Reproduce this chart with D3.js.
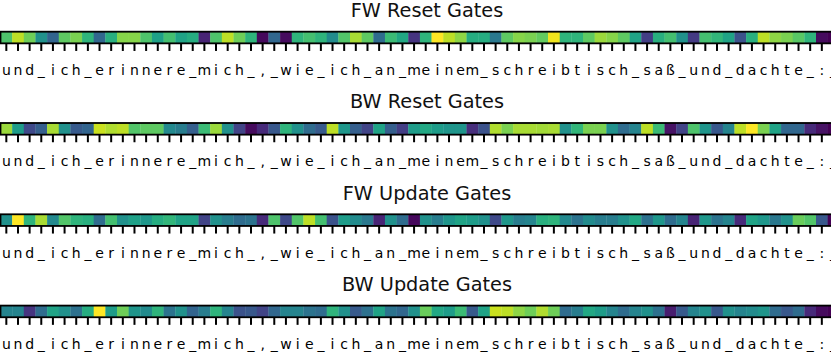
<!DOCTYPE html>
<html>
<head>
<meta charset="utf-8">
<script src="https://cdn.jsdelivr.net/npm/d3@7"></script>
<style>
  body { margin: 0; background: #fff; }
  svg { display: block; }
</style>
</head>
<body>
<div id="chart"></div>
<script>
// characters of the input sentence (one cell per character)
const sentence = "und_ich_erinnere_mich_,_wie_ich_an_meinem_schreibtisch_saß_und_dachte_:_";
const chars = Array.from(sentence);

const titles = ["FW Reset Gates", "BW Reset Gates", "FW Update Gates", "BW Update Gates"];

// gate activations (relative, 0 = darkest, 1 = brightest)
const fwReset = [0.72, 0.90, 0.78, 0.50, 0.32, 0.75, 0.80, 0.65, 0.33, 0.63,
                 0.82, 0.82, 0.72, 0.57, 0.70, 0.58, 0.62, 0.10, 0.72, 0.90,
                 0.78, 0.65, 0.02, 0.33, 0.03, 0.65, 0.70, 0.65, 0.48, 0.73,
                 0.87, 0.75, 0.35, 0.68, 0.60, 0.15, 0.65, 1.00, 0.90, 0.83,
                 0.62, 0.62, 0.40, 0.75, 0.82, 0.80, 0.76, 0.98, 0.65, 0.65,
                 0.75, 0.85, 0.82, 0.75, 0.58, 0.18, 0.63, 0.70, 0.50, 0.17,
                 0.70, 0.66, 0.58, 0.25, 0.63, 0.90, 0.83, 0.80, 0.74, 0.65,
                 0.03, 0.00];
const bwReset = [0.85, 0.55, 0.22, 0.30, 0.87, 0.50, 0.28, 0.32, 0.92, 0.88,
                 0.90, 0.73, 0.75, 0.75, 0.47, 0.42, 0.30, 0.68, 0.85, 0.50,
                 0.20, 0.03, 0.12, 0.27, 0.65, 0.50, 0.35, 0.28, 0.90, 0.53,
                 0.30, 0.20, 0.58, 0.30, 0.18, 0.55, 0.60, 0.55, 0.52, 0.52,
                 0.13, 0.25, 0.88, 0.80, 0.87, 0.87, 0.86, 0.87, 0.50, 0.66,
                 0.80, 0.80, 0.50, 0.35, 0.45, 0.90, 0.68, 0.05, 0.20, 0.72,
                 0.52, 0.27, 0.45, 0.90, 1.00, 0.80, 0.58, 0.33, 0.33, 0.12,
                 0.05, 0.00];
const fwUpdate = [0.50, 1.00, 0.65, 0.87, 0.47, 0.73, 0.65, 0.63, 0.35, 0.70,
                  0.50, 0.57, 0.53, 0.62, 0.66, 0.58, 0.58, 0.20, 0.50, 0.42,
                  0.35, 0.38, 0.12, 0.72, 0.22, 0.73, 0.90, 0.70, 0.25, 0.55,
                  0.48, 0.40, 0.10, 0.50, 0.35, 0.02, 0.50, 0.42, 0.52, 0.58,
                  0.55, 0.50, 0.22, 0.53, 0.42, 0.45, 0.63, 0.65, 0.47, 0.38,
                  0.48, 0.42, 0.42, 0.50, 0.60, 0.37, 0.53, 0.35, 0.45, 0.10,
                  0.53, 0.38, 0.45, 0.12, 0.58, 0.53, 0.40, 0.50, 0.77, 0.73,
                  0.27, 0.00];
const bwUpdate = [0.45, 0.45, 0.15, 0.35, 0.58, 0.50, 0.37, 0.62, 1.00, 0.55,
                  0.78, 0.52, 0.48, 0.65, 0.38, 0.50, 0.32, 0.42, 0.65, 0.45,
                  0.25, 0.27, 0.20, 0.33, 0.45, 0.45, 0.38, 0.35, 0.65, 0.50,
                  0.28, 0.37, 0.58, 0.38, 0.33, 0.50, 0.77, 0.60, 0.55, 0.68,
                  0.28, 0.58, 0.92, 0.90, 0.83, 0.78, 0.88, 0.78, 0.35, 0.42,
                  0.60, 0.55, 0.45, 0.35, 0.45, 0.50, 0.37, 0.08, 0.28, 0.45,
                  0.50, 0.27, 0.50, 0.45, 0.48, 0.52, 0.35, 0.27, 0.35, 0.12,
                  0.03, 0.00];

const gates = [fwReset, bwReset, fwUpdate, bwUpdate];

const svgWidth = 831;
const svgHeight = 357;

const cell = 11.65;
const left = 0.5;
const firstTop = 31.7;
const rowStep = 91.3;
const titleX = 427;

const svg = d3.select("#chart")
  .append("svg")
  .attr("width", svgWidth)
  .attr("height", svgHeight)
  .style("font-family", "'DejaVu Sans', sans-serif");

const x = d3.scaleBand()
  .domain(d3.range(chars.length))
  .range([left, left + chars.length * cell])
  .paddingInner(0)
  .paddingOuter(0);

const y = d3.scaleBand()
  .domain([0])
  .range([0, cell]);

gates.forEach(function(values, g) {
  const top = firstTop + g * rowStep;
  const color = d3.scaleSequential(d3.interpolateViridis)
    .domain(d3.extent(values));

  const panel = svg.append("g")
    .attr("transform", `translate(0, ${top})`);

  // title
  panel.append("text")
    .attr("x", titleX)
    .attr("y", -14.8)
    .attr("text-anchor", "middle")
    .style("font-size", "19.3px")
    .style("fill", "#111")
    .text(titles[g]);

  // cells
  panel.selectAll("rect.cell")
    .data(values)
    .enter()
    .append("rect")
    .attr("class", "cell")
    .attr("x", (d, i) => x(i))
    .attr("y", y(0))
    .attr("width", x.bandwidth() + 0.3)
    .attr("height", y.bandwidth())
    .attr("fill", d => color(d));

  // frame
  panel.append("rect")
    .attr("x", x.range()[0])
    .attr("y", 0)
    .attr("width", x.range()[1] - x.range()[0])
    .attr("height", cell)
    .attr("fill", "none")
    .attr("stroke", "#000")
    .attr("stroke-width", 1.8);

  // character axis
  const axis = d3.axisBottom(x)
    .tickSize(7.6)
    .tickSizeOuter(0)
    .tickFormat(i => chars[i]);

  const ax = panel.append("g")
    .attr("transform", `translate(0, ${cell})`)
    .call(axis);

  ax.select(".domain").remove();
  ax.selectAll(".tick line")
    .attr("stroke", "#000")
    .attr("stroke-width", 2);
  ax.selectAll(".tick text")
    .attr("y", 31.6)
    .attr("dy", 0)
    .attr("fill", "#000")
    .style("font-family", "'DejaVu Sans', sans-serif")
    .style("font-size", "14px");
});
</script>
</body>
</html>
